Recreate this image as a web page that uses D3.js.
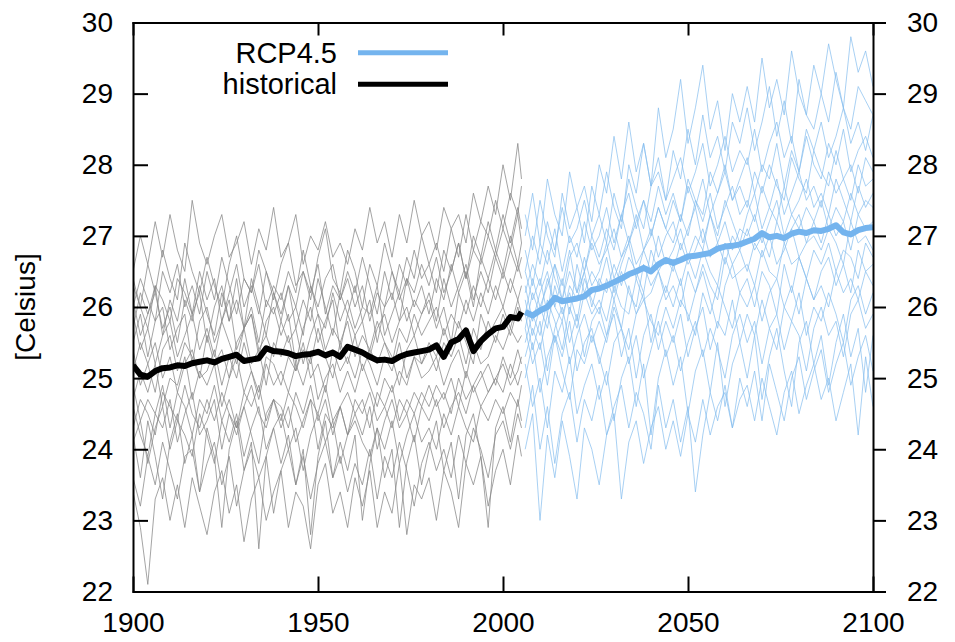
<!DOCTYPE html>
<html>
<head>
<meta charset="utf-8">
<script src="https://cdn.jsdelivr.net/npm/d3@7.9.0/dist/d3.min.js"></script>
<style>
  body { margin: 0; background: #fff; }
  svg { font-family: "Liberation Sans", Arial, sans-serif; }
</style>
</head>
<body>
<svg id="chart" width="955" height="642"></svg>
<script>
// x: historical runs every 2 years from 1900 (last point 2005), RCP4.5 every 2 years from 2006
const histStart = 1900, histEnd = 2005, rcpStart = 2006, yearStep = 2;
const xTicks = [1900, 1950, 2000, 2050, 2100];
const yTicks = [22, 23, 24, 25, 26, 27, 28, 29, 30];

// multi-model means
const histMean = [
  25.18, 25.05, 25.02, 25.10, 25.14, 25.15, 25.18, 25.17, 25.21, 25.23,
  25.25, 25.22, 25.27, 25.30, 25.33, 25.24, 25.26, 25.28, 25.42, 25.38,
  25.37, 25.35, 25.31, 25.33, 25.34, 25.37, 25.32, 25.36, 25.30, 25.44,
  25.40, 25.36, 25.30, 25.25, 25.26, 25.24, 25.30, 25.34, 25.36, 25.38,
  25.40, 25.46, 25.30, 25.50, 25.55, 25.67, 25.38, 25.52, 25.62, 25.70,
  25.72, 25.86, 25.84, 25.93
];
const rcpMean = [
  25.93, 25.88, 25.95, 26.00, 26.13, 26.08, 26.10, 26.12, 26.15, 26.24,
  26.26, 26.30, 26.35, 26.40, 26.46, 26.50, 26.55, 26.50, 26.60, 26.66,
  26.62, 26.66, 26.71, 26.72, 26.74, 26.76, 26.82, 26.85, 26.86, 26.88,
  26.92, 26.96, 27.04, 26.98, 27.00, 26.97, 27.03, 27.06, 27.04, 27.08,
  27.07, 27.10, 27.15, 27.05, 27.02, 27.08, 27.11, 27.12
];

// individual historical runs
const histRuns = [
  [26.5,27.0,26.6,27.2,26.7,27.3,26.8,26.5,27.5,26.9, 26.6,27.0,27.3,26.7,26.9,27.2,26.6,27.1,26.8,27.4, 26.7,26.9,27.3,26.6,27.0,26.8,27.2,26.7,26.9,26.6, 27.1,26.8,27.4,26.9,27.2,26.7,27.3,26.9,27.5,27.0, 27.2,26.8,27.4,27.1,27.3,26.9,27.6,27.2,27.7,27.3, 28.0,27.5,28.3,27.8],
  [26.3,26.0,26.6,26.2,26.8,26.4,26.1,26.9,26.5,26.2, 26.7,26.3,26.0,26.6,27.0,26.4,26.2,26.8,26.5,26.1, 26.6,26.9,26.3,26.5,26.1,26.7,27.1,26.4,26.2,26.8, 26.5,26.0,26.6,26.3,26.9,26.5,26.2,26.7,26.4,27.0, 26.6,26.9,26.5,27.1,26.7,27.3,26.8,27.2,27.0,27.5, 27.1,27.6,27.3,27.7],
  [26.0,26.4,26.1,25.8,26.5,26.2,26.6,26.0,26.3,25.9, 26.5,26.1,26.7,26.3,25.9,26.4,26.2,26.6,26.0,26.3, 26.1,26.5,26.2,26.8,26.3,26.0,26.4,26.6,26.1,26.5, 26.2,26.7,26.3,25.9,26.5,26.1,26.6,26.3,26.8,26.4, 26.6,26.2,26.8,26.5,26.9,26.4,27.0,26.7,27.2,26.8, 27.3,26.9,27.4,27.1],
  [26.4,26.0,25.7,26.3,26.1,25.8,26.4,26.2,25.9,26.5, 26.1,26.4,25.8,26.2,26.6,26.0,26.3,25.9,26.5,26.2, 25.8,26.3,26.0,26.5,26.2,26.6,25.9,26.3,26.1,26.4, 26.0,26.3,25.8,26.2,26.0,26.5,26.1,26.4,26.2,26.6, 26.3,26.7,26.2,26.5,26.9,26.4,26.8,26.6,27.0,26.7, 27.1,26.8,27.3,26.9],
  [25.7,26.2,25.9,26.3,25.6,26.1,25.8,26.4,25.9,26.2, 25.5,26.0,26.3,25.8,26.1,25.7,26.4,26.0,25.6,26.2, 25.9,26.3,25.7,26.1,25.8,26.4,26.0,25.6,26.2,25.9, 26.3,25.8,26.1,25.5,26.0,26.2,25.8,26.4,26.0,26.3, 25.9,26.4,26.1,26.6,26.2,26.5,26.0,26.7,26.4,26.8, 26.5,27.0,26.6,26.9],
  [26.1,25.6,25.9,26.2,25.7,26.0,25.5,26.1,25.8,26.3, 25.9,25.6,26.2,25.8,26.4,25.7,26.0,25.5,26.1,25.9, 26.2,25.8,26.0,25.6,26.3,25.9,25.7,26.2,25.8,26.1, 25.7,26.0,25.9,26.3,25.6,25.9,26.2,25.8,26.1,25.9, 26.2,25.8,26.4,26.0,26.3,26.6,26.1,26.5,26.2,26.7, 26.4,26.8,26.5,26.7],
  [25.5,25.9,25.3,25.8,26.0,25.4,25.7,25.9,25.2,25.8, 26.0,25.5,25.8,26.1,25.4,25.7,25.9,25.3,25.8,26.0, 25.6,25.9,25.2,25.7,26.0,25.5,25.8,26.1,25.4,25.9, 25.6,25.8,25.3,25.7,25.9,25.5,25.8,26.0,25.6,25.9, 26.1,25.7,26.0,25.5,26.2,25.9,26.3,26.0,26.4,26.1, 26.5,26.2,26.6,26.4],
  [25.9,25.4,25.7,25.2,25.6,25.8,25.3,25.6,25.9,25.4, 25.7,25.3,25.8,25.5,25.2,25.7,25.9,25.4,25.6,25.3, 25.8,25.5,25.7,25.2,25.6,25.9,25.4,25.7,25.5,25.8, 25.3,25.6,25.4,25.8,25.5,25.2,25.7,25.5,25.9,25.6, 25.8,26.0,25.6,25.9,25.7,26.1,25.8,26.2,25.9,26.3, 26.0,26.4,26.1,26.3],
  [25.1,25.5,25.2,24.8,25.4,25.6,25.1,25.5,25.3,25.0, 25.6,25.2,25.4,25.0,25.5,25.7,25.2,25.4,24.9,25.5, 25.3,25.6,25.1,25.4,25.2,25.7,25.3,25.0,25.5,25.2, 25.6,25.1,25.4,25.2,25.5,25.3,24.9,25.4,25.6,25.2, 25.5,25.3,25.7,25.4,25.8,25.5,25.2,25.9,25.6,25.8, 26.0,25.7,26.1,25.9],
  [25.4,24.9,25.2,25.5,25.0,25.3,24.8,25.2,25.4,25.0, 25.1,25.4,24.9,25.3,25.0,25.5,25.1,24.8,25.3,25.2, 24.9,25.3,25.1,25.5,25.0,25.2,24.8,25.4,25.1,25.3, 25.0,25.4,25.2,24.9,25.3,25.1,25.5,25.0,25.3,25.2, 25.4,25.1,25.5,25.3,25.6,25.2,25.7,25.4,25.8,25.5, 25.9,25.6,26.0,25.8],
  [24.7,25.1,24.8,25.2,24.6,25.0,24.9,25.3,24.7,25.1, 24.9,25.2,24.6,25.0,25.3,24.8,25.1,24.7,25.2,24.9, 25.1,24.8,25.2,24.9,25.3,24.7,25.0,25.2,24.8,25.1, 24.8,25.2,24.9,24.6,25.0,24.8,25.1,24.9,25.3,25.0, 25.1,25.3,24.9,25.2,25.4,25.0,25.5,25.2,25.3,25.6, 25.4,25.7,25.5,25.6],
  [24.9,24.4,24.7,24.5,24.9,24.3,24.8,24.6,24.2,24.7, 24.5,24.9,24.4,24.7,24.3,24.8,24.6,24.9,24.4,24.7, 24.6,24.3,24.8,24.5,24.9,24.4,24.7,24.2,24.6,24.8, 24.5,24.7,24.3,24.8,24.6,24.9,24.4,24.7,24.5,24.8, 24.6,24.9,24.7,25.0,24.6,25.1,24.8,25.0,25.2,24.9, 25.3,25.0,25.4,25.2],
  [24.3,24.7,24.5,24.2,24.8,24.6,24.4,24.9,24.5,24.3, 24.7,24.4,24.8,24.5,24.2,24.6,24.9,24.5,24.3,24.7, 24.4,24.8,24.6,24.3,24.7,24.5,24.9,24.4,24.6,24.2, 24.7,24.5,24.8,24.4,24.6,24.3,24.7,24.5,24.8,24.6, 24.9,24.6,24.8,24.5,25.0,24.7,24.9,25.1,24.8,25.0, 25.2,24.9,25.1,25.3],
  [24.6,24.2,23.9,24.5,24.3,24.7,24.1,24.5,24.8,24.2, 24.4,24.7,24.0,24.5,24.3,24.6,24.2,23.8,24.5,24.7, 24.3,24.6,24.1,24.4,24.7,24.0,24.5,24.3,24.6,24.2, 24.5,24.2,24.6,24.0,24.4,24.7,24.3,24.5,24.1,24.6, 24.4,24.7,24.3,24.6,24.8,24.5,24.9,24.6,24.8,25.0, 24.8,25.2,24.9,25.1],
  [24.1,24.4,23.8,24.3,24.6,24.0,24.4,24.2,23.9,24.5, 24.2,23.8,24.4,24.1,24.5,23.9,24.3,24.6,24.0,24.3, 24.5,24.0,24.3,23.7,24.2,24.5,24.1,24.4,23.8,24.2, 24.4,24.1,23.9,24.3,24.0,24.4,23.8,24.2,24.5,24.1, 24.3,24.0,24.5,24.2,24.6,24.3,24.1,24.6,24.4,24.7, 24.5,24.8,24.6,24.9],
  [23.6,23.2,23.9,23.5,24.1,23.7,23.3,23.9,24.0,23.4, 23.8,24.1,23.5,23.9,23.2,23.7,24.0,23.6,23.9,23.1, 23.7,24.0,23.5,23.9,23.3,23.8,24.1,23.6,23.9,23.4, 23.8,23.5,24.0,23.3,23.9,23.6,24.1,23.7,23.2,23.8, 24.1,23.7,24.0,23.6,24.2,23.8,24.3,24.0,23.6,24.2, 24.4,24.0,24.5,24.3],
  [23.4,22.9,22.1,23.3,23.6,23.0,23.5,22.9,23.6,23.2, 22.8,23.4,23.7,23.1,23.5,22.7,23.3,23.6,23.0,23.4, 23.7,22.9,23.4,23.2,22.6,23.5,23.8,23.1,23.4,22.9, 23.6,23.2,23.7,22.9,23.4,23.1,23.8,22.8,23.5,23.3, 23.6,23.0,23.7,23.4,22.9,23.8,23.5,23.9,23.2,23.7, 24.0,23.5,24.2,23.9],
  [24.2,23.6,24.4,23.9,23.3,24.1,24.5,23.8,24.2,23.4, 24.3,23.9,22.9,24.0,24.4,23.7,24.1,22.6,23.9,24.3, 23.8,24.2,23.5,24.0,22.8,23.9,24.4,23.6,24.1,23.7, 24.2,23.0,23.8,24.3,23.6,24.0,22.9,23.8,24.2,23.5, 24.0,24.4,23.7,24.1,23.3,24.2,24.5,23.9,22.9,24.3, 24.6,24.1,24.7,24.4]
];

// individual RCP4.5 runs
const rcpRuns = [
  [27.0,27.6,26.9,27.8,27.3,27.0,27.9,27.4,27.7,27.2, 28.0,27.6,28.4,27.8,28.6,27.9,28.3,27.7,28.8,28.1, 28.5,29.2,28.3,28.8,29.4,28.5,28.9,28.2,29.0,28.6, 29.1,28.6,29.5,28.8,29.2,28.7,29.6,29.0,28.7,29.4, 29.0,29.7,29.2,28.8,29.8,29.3,29.6,29.1],
  [27.3,26.8,27.5,27.0,26.7,27.6,27.1,27.4,26.9,27.7, 27.3,27.9,27.4,27.1,28.0,27.6,28.3,27.7,28.1,27.5, 28.2,27.8,28.5,28.0,28.7,28.1,28.4,27.9,28.6,28.3, 28.8,28.2,28.6,29.1,28.4,28.9,28.3,29.2,28.7,28.5, 29.0,28.6,29.3,28.8,28.5,29.1,28.9,28.7],
  [26.5,27.0,26.6,27.2,26.8,27.4,26.9,27.1,27.5,27.0, 27.3,26.9,27.6,27.2,27.8,27.4,27.1,27.7,27.9,27.5, 27.8,28.1,27.6,27.9,28.3,27.7,28.0,28.4,27.9,28.2, 28.0,28.5,27.9,28.3,28.6,28.1,28.4,27.9,28.5,28.2, 28.6,28.1,28.4,28.8,28.3,28.6,28.2,28.7],
  [26.8,26.3,26.9,26.6,27.1,26.5,27.0,26.7,27.2,26.8, 27.0,27.4,26.9,27.3,27.6,27.1,27.5,27.2,27.7,27.3, 27.6,27.2,27.8,27.5,27.3,27.9,27.6,28.0,27.5,27.8, 28.1,27.6,28.0,27.8,28.3,27.7,28.2,27.9,28.4,28.0, 27.8,28.3,28.0,28.5,27.9,28.2,28.4,28.1],
  [26.2,26.6,26.3,26.8,26.4,26.1,26.7,26.9,26.5,27.0, 26.7,27.1,26.8,27.3,26.9,27.2,27.5,27.0,27.4,27.1, 27.5,27.2,27.7,27.4,27.8,27.3,27.6,27.9,27.5,27.7, 27.4,27.9,27.6,28.0,27.7,27.5,28.1,27.8,27.6,28.2, 27.9,27.7,28.2,27.8,28.0,27.6,28.1,27.9],
  [26.5,26.1,26.4,25.9,26.6,26.3,26.8,26.2,26.5,26.9, 26.6,26.8,27.1,26.7,26.9,27.3,26.8,27.0,27.4,27.1, 26.9,27.3,27.0,27.5,27.2,27.6,27.1,27.4,27.7,27.3, 27.5,27.2,27.7,27.4,27.8,27.3,27.6,27.9,27.5,27.7, 27.4,27.9,27.6,27.8,27.5,28.0,27.7,27.8],
  [25.9,26.4,26.0,26.3,26.6,26.1,26.5,26.2,26.7,26.3, 26.5,26.9,26.4,26.7,27.0,26.6,26.8,27.1,26.7,27.0, 27.2,26.8,27.1,27.4,26.9,27.3,27.0,27.5,27.2,26.9, 27.3,27.6,27.1,27.4,27.2,27.7,27.3,27.5,27.8,27.4, 27.6,27.3,27.8,27.5,27.2,27.7,27.4,27.6],
  [26.3,25.8,26.2,26.5,26.0,26.4,25.9,26.6,26.2,26.5, 26.3,26.7,26.2,26.6,26.9,26.4,26.8,26.5,27.0,26.6, 26.8,27.1,26.7,27.0,26.8,27.3,26.9,27.2,26.8,27.1, 27.0,27.3,26.9,27.2,27.5,27.0,27.3,27.1,27.4,27.2, 27.5,27.1,27.4,27.2,27.6,27.3,27.5,27.4],
  [25.7,26.2,25.9,26.4,26.0,25.8,26.3,26.1,26.5,26.0, 26.4,26.2,26.6,26.3,26.7,26.5,26.2,26.8,26.5,26.7, 26.5,26.9,26.6,26.8,27.1,26.7,26.9,26.6,27.0,26.8, 27.1,26.8,27.0,26.7,27.2,26.9,27.1,27.3,26.9,27.2, 26.9,27.3,27.0,27.2,26.8,27.3,27.1,27.2],
  [26.1,25.6,26.0,25.7,26.3,25.9,26.2,25.8,26.4,26.1, 25.9,26.4,26.1,26.5,26.2,26.0,26.6,26.3,26.5,26.2, 26.6,26.3,26.7,26.4,26.8,26.5,26.3,26.9,26.6,26.8, 26.5,26.9,26.7,27.0,26.6,26.8,27.1,26.7,26.9,27.0, 26.8,27.1,26.9,26.6,27.2,26.9,27.0,26.8],
  [25.5,25.9,25.6,26.1,25.8,25.4,26.0,25.7,26.2,25.9, 26.1,25.8,26.3,26.0,25.9,26.4,26.1,26.2,26.5,26.1, 26.3,26.0,26.5,26.2,26.6,26.3,26.1,26.7,26.4,26.5, 26.6,26.3,26.8,26.5,26.4,26.9,26.6,26.7,26.4,26.8, 26.6,26.9,26.5,26.8,26.7,26.4,26.9,26.7],
  [25.9,25.4,25.8,25.1,25.7,26.0,25.5,25.9,25.3,25.8, 26.0,25.6,26.1,25.7,26.3,25.9,26.2,25.5,26.0,26.3, 26.0,26.4,25.8,26.2,26.5,26.1,25.7,26.3,26.6,26.2, 26.4,26.0,26.5,26.3,25.9,26.6,26.2,26.7,26.4,26.1, 26.5,26.7,26.3,26.6,26.2,26.8,26.5,26.6],
  [25.3,25.7,25.4,25.9,25.5,25.8,25.2,25.6,25.9,25.5, 25.8,25.5,26.0,25.7,25.4,25.9,26.1,25.8,25.6,26.0, 25.7,26.1,25.9,25.6,26.2,25.9,26.3,26.0,25.7,26.2, 26.0,26.3,25.8,26.2,26.4,26.0,26.3,25.9,26.4,26.1, 26.3,26.0,26.5,26.2,26.4,26.1,26.5,26.3],
  [25.7,25.2,25.5,24.9,25.6,25.3,25.8,25.1,25.5,25.7, 25.2,25.6,25.9,25.3,25.7,25.0,25.6,25.9,25.4,25.8, 25.5,25.9,25.3,25.7,26.0,25.4,25.8,25.6,26.1,25.5, 25.9,25.6,26.1,25.7,25.4,26.0,25.8,26.2,25.6,26.0, 25.8,26.2,25.9,25.5,26.1,26.3,25.9,26.2],
  [25.0,25.5,24.8,25.3,25.6,25.1,24.7,25.4,25.2,25.6, 25.3,24.9,25.5,25.7,25.2,25.6,25.0,25.4,25.8,25.3, 25.6,25.1,25.5,25.8,25.3,25.7,25.4,25.0,25.6,25.9, 25.5,25.8,25.2,25.7,25.9,25.4,25.8,25.6,25.1,25.7, 26.0,25.6,25.8,25.3,25.9,26.1,25.7,25.9],
  [25.2,24.6,25.0,24.3,25.1,24.8,25.3,24.5,24.9,25.2, 24.7,25.1,24.4,25.0,25.3,24.6,25.2,24.2,25.0,25.4, 24.9,25.3,24.5,25.1,25.4,24.8,25.5,24.6,25.2,25.5, 25.0,25.6,24.7,25.3,25.7,25.1,24.6,25.5,25.8,25.2, 25.6,24.9,25.5,25.9,25.3,25.7,24.8,25.6],
  [24.3,24.9,24.0,24.6,23.8,24.5,24.8,24.1,24.7,24.4, 24.9,24.2,24.6,24.9,24.3,24.8,24.5,24.0,24.9,24.3, 24.7,24.1,24.6,23.4,24.2,24.8,24.4,24.9,24.3,25.0, 24.6,25.1,24.4,25.2,24.8,24.4,25.0,25.3,24.7,25.1, 25.4,24.8,25.2,25.5,24.9,25.3,25.6,25.1],
  [24.0,24.5,23.0,24.2,23.6,24.4,23.9,23.3,24.3,24.0, 23.5,24.2,24.5,23.3,24.1,24.4,23.8,24.3,24.6,24.0, 24.4,23.9,24.5,24.1,24.7,24.2,24.6,24.8,24.3,24.7, 24.9,24.4,25.0,24.6,24.2,24.8,25.1,24.5,24.9,25.2, 24.7,25.0,24.4,24.8,25.2,24.2,25.3,24.6]
];

const legendItems = [
  { label: "RCP4.5", color: "#74b4ee" },
  { label: "historical", color: "#000000" }
];

const width = 955, height = 642;
const margin = { top: 22.5, right: 82, bottom: 50.5, left: 133 };
const plotW = width - margin.left - margin.right;
const plotH = height - margin.top - margin.bottom;

const svg = d3.select("#chart");
const g = svg.append("g").attr("transform", `translate(${margin.left},${margin.top})`);

const x = d3.scaleLinear().domain([1900, 2100]).range([0, plotW]);
const y = d3.scaleLinear().domain([22, 30]).range([plotH, 0]);

const histYear = i => Math.min(histStart + yearStep * i, histEnd);
const rcpYear = i => rcpStart + yearStep * i;

const histLine = d3.line().x((d, i) => x(histYear(i))).y(d => y(d));
const rcpLine = d3.line().x((d, i) => x(rcpYear(i))).y(d => y(d));

svg.append("defs").append("clipPath").attr("id", "plot-clip")
  .append("rect").attr("width", plotW).attr("height", plotH);

const plot = g.append("g").attr("clip-path", "url(#plot-clip)");

plot.selectAll(".hist-run").data(histRuns).join("path")
  .attr("class", "hist-run")
  .attr("d", histLine)
  .attr("fill", "none")
  .attr("stroke", "#888")
  .attr("stroke-opacity", 0.85)
  .attr("stroke-width", 0.9);

plot.selectAll(".rcp-run").data(rcpRuns).join("path")
  .attr("class", "rcp-run")
  .attr("d", rcpLine)
  .attr("fill", "none")
  .attr("stroke", "#86bdee")
  .attr("stroke-opacity", 0.8)
  .attr("stroke-width", 0.9);

plot.append("path").datum(histMean)
  .attr("d", histLine)
  .attr("fill", "none")
  .attr("stroke", "#000")
  .attr("stroke-width", 6)
  .attr("stroke-linejoin", "round");

plot.append("path").datum(rcpMean)
  .attr("d", rcpLine)
  .attr("fill", "none")
  .attr("stroke", legendItems[0].color)
  .attr("stroke-width", 6)
  .attr("stroke-linejoin", "round");

// axes
const fontSize = 28;
function styleAxis(sel) {
  sel.selectAll("path, line").attr("stroke", "#000").attr("stroke-width", 2);
  sel.selectAll("text").attr("font-size", fontSize).attr("fill", "#000")
    .attr("font-family", "'Liberation Sans', Arial, sans-serif");
}

g.append("g").attr("transform", `translate(0,${plotH})`)
  .call(d3.axisBottom(x).tickValues(xTicks).tickFormat(d3.format("d"))
    .tickSizeInner(-15).tickSizeOuter(0).tickPadding(21))
  .call(styleAxis);

g.append("g")
  .call(d3.axisTop(x).tickValues(xTicks).tickFormat("")
    .tickSizeInner(-13).tickSizeOuter(0))
  .call(styleAxis);

g.append("g")
  .call(d3.axisLeft(y).tickValues(yTicks).tickFormat(d3.format("d"))
    .tickSizeInner(-15).tickSizeOuter(0).tickPadding(20))
  .call(styleAxis);

g.append("g").attr("transform", `translate(${plotW},0)`)
  .call(d3.axisRight(y).tickValues(yTicks).tickFormat(d3.format("d"))
    .tickSizeInner(13).tickSizeOuter(0).tickPadding(21))
  .call(styleAxis);

svg.selectAll(".domain").attr("stroke-linecap", "square");

// y label
svg.append("text")
  .attr("transform", `translate(35,${margin.top + y(26)})rotate(-90)`)
  .attr("text-anchor", "middle")
  .attr("font-size", fontSize)
  .text("[Celsius]");

// legend
const legend = svg.append("g");
legendItems.forEach((item, i) => {
  const ly = 52.7 + i * 31.5;
  legend.append("text")
    .attr("x", 337).attr("y", ly + 10)
    .attr("text-anchor", "end")
    .attr("font-size", 29)
    .text(item.label);
  legend.append("line")
    .attr("x1", 358).attr("x2", 448)
    .attr("y1", ly).attr("y2", ly)
    .attr("stroke", item.color)
    .attr("stroke-width", 5);
});
</script>
</body>
</html>
